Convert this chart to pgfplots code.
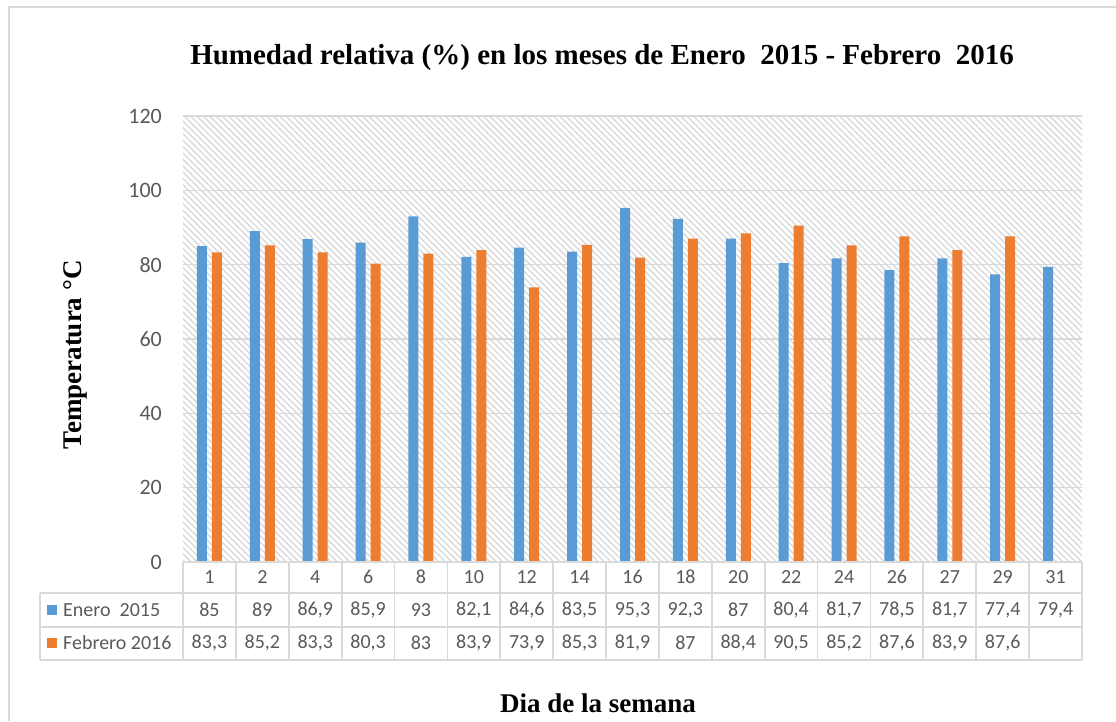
\documentclass[border=0pt]{standalone}
\usepackage{pgfplots}
\pgfplotsset{compat=1.18}
\usepackage{pgfplotstable}
\usepackage{fontspec}
\setmainfont{Liberation Serif}
\newfontfamily\calibri{Carlito}
\usetikzlibrary{patterns.meta}
\definecolor{eneroazul}{HTML}{5B9BD5}
\definecolor{febnaranja}{HTML}{ED7D31}
\definecolor{textogris}{HTML}{595959}
\definecolor{lineagris}{HTML}{D9D9D9}
\pgfkeys{/pgf/number format/assume math mode=true}

% i = posicion, dia = dia del mes
\pgfplotstableread{
i  dia enero feb
0  1   85    83.3
1  2   89    85.2
2  4   86.9  83.3
3  6   85.9  80.3
4  8   93    83
5  10  82.1  83.9
6  12  84.6  73.9
7  14  83.5  85.3
8  16  95.3  81.9
9  18  92.3  87
10 20  87    88.4
11 22  80.4  90.5
12 24  81.7  85.2
13 26  78.5  87.6
14 27  81.7  83.9
15 29  77.4  87.6
16 31  79.4  nan
}\datos

\begin{document}
\begin{tikzpicture}[x=1pt,y=1pt]
\useasboundingbox (0,0) rectangle (1116,721);
\draw[lineagris, line width=1.5pt] (9,0) -- (9,714) -- (1116,714);

\begin{axis}[
    at={(183pt,159pt)}, anchor=south west,
    scale only axis, width=899pt, height=446pt,
    xmin=-0.5, xmax=16.5,
    ymin=0, ymax=120,
    ytick={0,20,...,120},
    xtick=\empty,
    ymajorgrids,
    grid style={lineagris, line width=1.3pt},
    axis line style={draw=none},
    major tick length=0pt,
    yticklabel style={font=\calibri\fontsize{22}{22}\selectfont, text=textogris, inner sep=0pt, xshift=-21pt},
    axis background/.style={pattern={Lines[angle=-45,distance=4.5pt,line width=1.4pt]}, pattern color=lineagris},
]
\addplot[ybar, bar width=10pt, bar shift=-7.5pt, fill=eneroazul, draw=none] table[x=i, y=enero] {\datos};
\addplot[ybar, bar width=10pt, bar shift=7.5pt, fill=febnaranja, draw=none] table[x=i, y=feb] {\datos};
\end{axis}

% tabla de datos
\begin{scope}[lineagris, line width=1.8pt]
\draw (183,159) -- (1082,159);
\draw (40,128) -- (1082,128);
\draw (40,94) -- (1082,94);
\draw (40,61) -- (1082,61);
\draw (40,128) -- (40,61);
\foreach \k in {0,...,17} \draw ({183+\k*899/17},159) -- ({183+\k*899/17},61);
\end{scope}

\tikzset{celda/.style={font=\calibri\fontsize{20}{20}\selectfont, text=textogris, inner sep=0pt}}
\foreach \k in {0,...,16} {
  \pgfplotstablegetelem{\k}{dia}\of\datos
  \node[celda] at ({183+(\k+0.5)*899/17},144) {\pgfplotsretval};
  \pgfplotstablegetelem{\k}{enero}\of\datos
  \node[celda] at ({183+(\k+0.5)*899/17},111) {\pgfmathprintnumber[use comma]{\pgfplotsretval}};
}
\foreach \k in {0,...,15} {
  \pgfplotstablegetelem{\k}{feb}\of\datos
  \node[celda] at ({183+(\k+0.5)*899/17},78) {\pgfmathprintnumber[use comma]{\pgfplotsretval}};
}
\fill[eneroazul] (47,106) rectangle (57,116);
\fill[febnaranja] (47,73) rectangle (57,83);
\node[celda, anchor=west] at (63,111) {Enero\ \ 2015};
\node[celda, anchor=west] at (63,78) {Febrero 2016};

% titulos
\node[font=\bfseries\fontsize{29}{29}\selectfont] at (602,663) {Humedad relativa (\%) en los meses de Enero\ \ 2015 - Febrero\ \ 2016};
\node[rotate=90, font=\bfseries\fontsize{27}{27}\selectfont] at (75,366) {Temperatura °C};
\node[font=\bfseries\fontsize{27}{27}\selectfont] at (598,18) {Dia de la semana};
\end{tikzpicture}
\end{document}
